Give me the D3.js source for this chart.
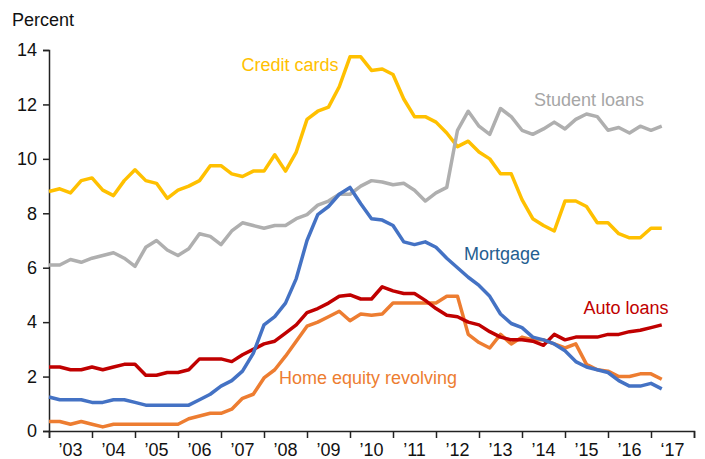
<!DOCTYPE html>
<html>
<head>
<meta charset="utf-8">
<script src="https://cdn.jsdelivr.net/npm/d3@7"></script>
<style>
	body { margin: 0; background: #fff; }
	text { font-family: 'Liberation Sans Narrow', 'Arial Narrow', sans-serif; }
</style>
</head>
<body>
<script>
// quarterly data, 2003 Q1 to 2017 Q2
var firstYear = 2003;

var creditCards = [8.8, 8.9, 8.75, 9.2, 9.3, 8.85, 8.65, 9.2, 9.6, 9.2,
	9.1, 8.55, 8.85, 9.0, 9.2, 9.75, 9.75, 9.45, 9.35, 9.55,
	9.55, 10.15, 9.55, 10.25, 11.45, 11.75, 11.9, 12.65, 13.75, 13.75,
	13.25, 13.3, 13.1, 12.2, 11.55, 11.55, 11.35, 10.95, 10.45, 10.65,
	10.25, 10.0, 9.45, 9.45, 8.5, 7.8, 7.55, 7.35, 8.45, 8.45,
	8.25, 7.65, 7.65, 7.25, 7.1, 7.1, 7.45, 7.45];

var studentLoans = [6.1, 6.1, 6.3, 6.2, 6.35, 6.45, 6.55, 6.35, 6.05, 6.75,
	7.0, 6.65, 6.45, 6.7, 7.25, 7.15, 6.85, 7.35, 7.65, 7.55,
	7.45, 7.55, 7.55, 7.8, 7.95, 8.3, 8.45, 8.7, 8.7, 9.0,
	9.2, 9.15, 9.05, 9.1, 8.85, 8.45, 8.75, 8.95, 11.05, 11.75,
	11.2, 10.9, 11.85, 11.55, 11.05, 10.9, 11.1, 11.35, 11.1, 11.45,
	11.65, 11.55, 11.05, 11.15, 10.95, 11.2, 11.05, 11.2];

var mortgage = [1.25, 1.15, 1.15, 1.15, 1.05, 1.05, 1.15, 1.15, 1.05, 0.95,
	0.95, 0.95, 0.95, 0.95, 1.15, 1.35, 1.65, 1.85, 2.2, 2.85,
	3.9, 4.2, 4.7, 5.6, 7.0, 7.95, 8.25, 8.7, 8.95, 8.35,
	7.8, 7.75, 7.55, 6.95, 6.85, 6.95, 6.75, 6.35, 6.0, 5.65,
	5.35, 4.95, 4.3, 3.95, 3.8, 3.45, 3.35, 3.2, 2.95, 2.55,
	2.35, 2.25, 2.15, 1.85, 1.65, 1.65, 1.75, 1.55];

var autoLoans = [2.35, 2.35, 2.25, 2.25, 2.35, 2.25, 2.35, 2.45, 2.45, 2.05,
	2.05, 2.15, 2.15, 2.25, 2.65, 2.65, 2.65, 2.55, 2.8, 3.0,
	3.2, 3.3, 3.6, 3.9, 4.35, 4.5, 4.7, 4.95, 5.0, 4.85,
	4.85, 5.3, 5.15, 5.05, 5.05, 4.8, 4.5, 4.25, 4.2, 4.0,
	3.9, 3.65, 3.45, 3.35, 3.35, 3.3, 3.15, 3.55, 3.35, 3.45,
	3.45, 3.45, 3.55, 3.55, 3.65, 3.7, 3.8, 3.9];

var homeEquity = [0.35, 0.35, 0.25, 0.35, 0.25, 0.15, 0.25, 0.25, 0.25, 0.25,
	0.25, 0.25, 0.25, 0.45, 0.55, 0.65, 0.65, 0.8, 1.2, 1.35,
	1.95, 2.25, 2.75, 3.3, 3.85, 4.0, 4.2, 4.4, 4.05, 4.3,
	4.25, 4.3, 4.7, 4.7, 4.7, 4.7, 4.7, 4.95, 4.95, 3.55,
	3.25, 3.05, 3.55, 3.2, 3.45, 3.35, 3.35, 3.2, 3.05, 3.2,
	2.45, 2.25, 2.2, 2.0, 2.0, 2.1, 2.1, 1.9];

var yearLabels = ['’03', '’04', '’05', '’06', '’07', '’08', '’09', '’10',
	'’11', '’12', '’13', '’14', '’15', '’16', '‘17'];
var yTicks = [0, 2, 4, 6, 8, 10, 12, 14];

// one entry per line, drawn in this order
var series = [
	{ name: 'Credit cards', values: creditCards, color: '#ffc000', labelColor: '#ffc000', lx: 290, ly: 71 },
	{ name: 'Student loans', values: studentLoans, color: '#afafaf', labelColor: '#a6a6a6', lx: 589, ly: 106 },
	{ name: 'Home equity revolving', values: homeEquity, color: '#ed7d31', labelColor: '#ed7d31', lx: 368, ly: 384 },
	{ name: 'Auto loans', values: autoLoans, color: '#c00000', labelColor: '#c00000', lx: 626, ly: 314 },
	{ name: 'Mortgage', values: mortgage, color: '#4472c4', labelColor: '#255e91', lx: 502, ly: 260 }
];

var width = 705,
	height = 459;

var svg = d3.select('body')
	.append('svg')
	.attr('width', width)
	.attr('height', height);

var x = d3.scaleLinear()
	.domain([firstYear, firstYear + yearLabels.length])
	.range([49, 694]);

var y = d3.scaleLinear()
	.domain([0, 14])
	.range([431, 50]);

// y axis
var yAxis = d3.axisLeft(y)
	.tickValues(yTicks)
	.tickSize(6)
	.tickPadding(6)
	.tickFormat(d3.format('d'));

svg.append('g')
	.attr('transform', 'translate(' + x.range()[0] + ',0)')
	.call(yAxis)
	.call(function(g) {
		g.select('.domain').attr('stroke', '#222').attr('stroke-width', 1.5);
		g.selectAll('.tick line').attr('stroke', '#222').attr('stroke-width', 1.5);
		g.selectAll('.tick text')
			.attr('font-size', 18)
			.attr('fill', '#111')
			.style('font-family', "'Liberation Sans Narrow', 'Arial Narrow', sans-serif");
	});

// x axis, ticks at year boundaries, labels centred in each year
var xAxis = d3.axisBottom(x)
	.tickValues(d3.range(firstYear, firstYear + yearLabels.length + 1))
	.tickSize(7)
	.tickFormat('');

svg.append('g')
	.attr('transform', 'translate(0,' + y(0) + ')')
	.call(xAxis)
	.call(function(g) {
		g.select('.domain').attr('stroke', '#222').attr('stroke-width', 1.5);
		g.selectAll('.tick line').attr('stroke', '#222').attr('stroke-width', 1.5);
	});

svg.append('g')
	.selectAll('text')
	.data(yearLabels)
	.enter().append('text')
	.attr('x', function(d, i) { return x(firstYear + i + 0.5); })
	.attr('y', y(0) + 25)
	.attr('text-anchor', 'middle')
	.attr('font-size', 18)
	.attr('fill', '#111')
	.text(function(d) { return d; });

// unit title
svg.append('text')
	.attr('x', 12)
	.attr('y', 26)
	.attr('font-size', 18)
	.attr('fill', '#111')
	.text('Percent');

// lines
var line = d3.line()
	.x(function(d, i) { return x(firstYear + i / 4); })
	.y(function(d) { return y(d); });

svg.append('g')
	.selectAll('path')
	.data(series)
	.enter().append('path')
	.attr('fill', 'none')
	.attr('stroke', function(d) { return d.color; })
	.attr('stroke-width', 3.5)
	.attr('stroke-linejoin', 'round')
	.attr('d', function(d) { return line(d.values); });

// series labels
svg.append('g')
	.selectAll('text')
	.data(series)
	.enter().append('text')
	.attr('x', function(d) { return d.lx; })
	.attr('y', function(d) { return d.ly; })
	.attr('text-anchor', 'middle')
	.attr('font-size', 18)
	.attr('fill', function(d) { return d.labelColor; })
	.text(function(d) { return d.name; });
</script>
</body>
</html>
